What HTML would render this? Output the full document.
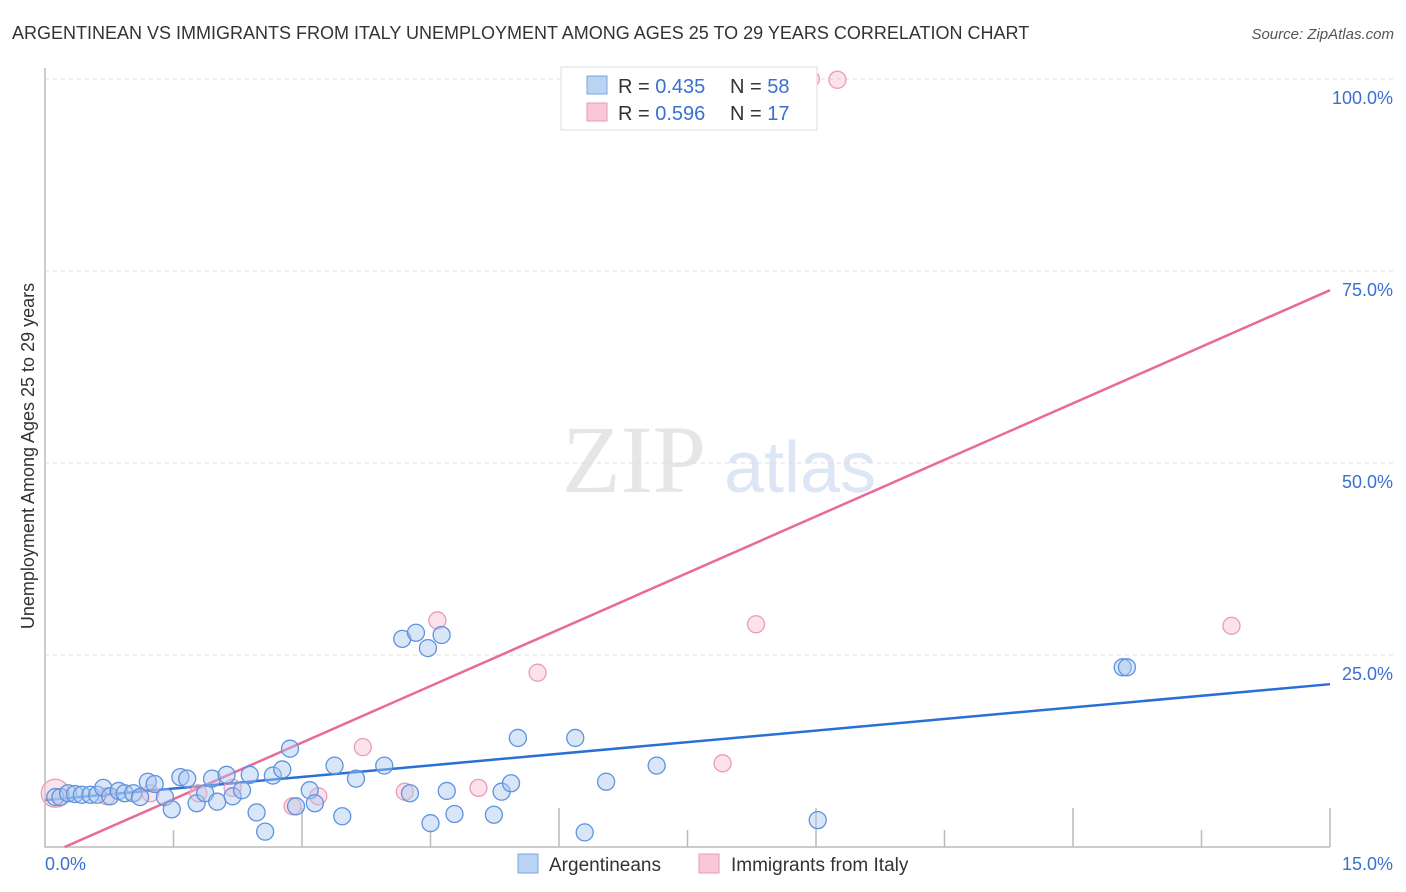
<!DOCTYPE html>
<html><head><meta charset="utf-8"><style>
body{margin:0;background:#fff;font-family:"Liberation Sans",sans-serif;}
#wrap{position:relative;width:1406px;height:892px;overflow:hidden}
</style></head><body>
<div id="wrap">
<svg id="svg" width="1406" height="892" xmlns="http://www.w3.org/2000/svg">
<text x="12" y="39" font-size="18" fill="#333">ARGENTINEAN VS IMMIGRANTS FROM ITALY UNEMPLOYMENT AMONG AGES 25 TO 29 YEARS CORRELATION CHART</text>
<text x="1394" y="39" font-size="15" fill="#555" text-anchor="end" font-style="italic">Source: ZipAtlas.com</text>
<text x="634" y="492" font-size="96" fill="#e6e6e6" font-family="Liberation Serif,serif" text-anchor="middle">ZIP</text>
<text x="800" y="492" font-size="72" fill="#dde6f4" text-anchor="middle">atlas</text>
<text transform="translate(34,456) rotate(-90)" font-size="18" fill="#333" text-anchor="middle">Unemployment Among Ages 25 to 29 years</text>
<g id="grid"></g><g id="ticks"></g><g id="lines"></g><g id="pts"></g>
<g>
<rect x="561" y="67" width="256" height="63" fill="#fff" stroke="#ddd"/>
<rect x="587" y="76" width="20" height="18" fill="#b9d3f5" stroke="#7aa6e0"/>
<rect x="587" y="103" width="20" height="18" fill="#f9c7d6" stroke="#e99ab3"/>
<text x="618" y="93" font-size="20" fill="#333">R = <tspan fill="#3b6fd0">0.435</tspan></text>
<text x="730" y="93" font-size="20" fill="#333">N = <tspan fill="#3b6fd0">58</tspan></text>
<text x="618" y="120" font-size="20" fill="#333">R = <tspan fill="#3b6fd0">0.596</tspan></text>
<text x="730" y="120" font-size="20" fill="#333">N = <tspan fill="#3b6fd0"> 17</tspan></text>
</g>
<g>
<rect x="518" y="854" width="20" height="19" fill="#b9d3f5" stroke="#7aa6e0"/>
<text x="549" y="871" font-size="19" fill="#333">Argentineans</text>
<rect x="699" y="854" width="20" height="19" fill="#f9c7d6" stroke="#e99ab3"/>
<text x="731" y="871" font-size="19" fill="#333">Immigrants from Italy</text>
</g>
<text x="45" y="870" font-size="18" fill="#3b6fd0">0.0%</text>
<text x="1393" y="870" font-size="18" fill="#3b6fd0" text-anchor="end">15.0%</text>
</svg></div>
<script>
const yTicks=[25,50,75,100];
const yTickLabels=["25.0%","50.0%","75.0%","100.0%"];
const xTicks=[1.5,3,4.5,6,7.5,9,10.5,12,13.5,15];
const blueX=[0.12,0.18,0.27,0.35,0.43,0.53,0.61,0.68,0.76,0.86,0.93,1.03,1.11,1.2,1.28,1.4,1.48,1.58,1.66,1.77,1.87,1.95,2.01,2.12,2.19,2.3,2.39,2.47,2.57,2.66,2.77,2.86,2.93,3.09,3.15,3.38,3.47,3.63,3.96,4.17,4.26,4.33,4.47,4.5,4.63,4.69,4.78,5.24,5.33,5.44,5.52,6.19,6.3,6.55,7.14,9.02,12.58,12.63];
const blueY=[6.5,6.5,7.0,6.9,6.8,6.8,6.8,7.7,6.6,7.3,7.0,7.0,6.5,8.5,8.2,6.5,4.9,9.1,8.9,5.7,7.0,8.9,5.9,9.4,6.6,7.4,9.4,4.5,2.0,9.3,10.1,12.8,5.3,7.4,5.7,10.6,4.0,8.9,10.6,27.1,7.0,27.9,25.9,3.1,27.6,7.3,4.3,4.2,7.2,8.3,14.2,14.2,1.9,8.5,10.6,3.5,23.4,23.4];
const pinkX=[0.12,1.23,1.79,2.19,2.89,3.19,3.71,4.2,4.58,5.06,5.75,7.91,8.3,8.94,9.25,13.85,0.72];
const pinkY=[7.0,7.0,7.0,7.7,5.3,6.6,13.0,7.2,29.5,7.7,22.7,10.9,29.0,100,99.9,28.8,6.6];
const blueLine=[[0,6.1],[15,21.2]];
const pinkLine=[[0.23,0],[15,72.5]];
const X=v=>45+v/15*1285, Y=v=>847-v/100*768;
const NS="http://www.w3.org/2000/svg";
function mk(t,a,p){const e=document.createElementNS(NS,t);for(const k in a)e.setAttribute(k,a[k]);p.appendChild(e);return e;}
const grid=document.getElementById('grid'),ticks=document.getElementById('ticks'),lines=document.getElementById('lines'),pts=document.getElementById('pts');
yTicks.forEach((t,i)=>{
 const l=mk('line',{x1:45,x2:1394,y1:Y(t),y2:Y(t),stroke:'#ddd','stroke-dasharray':'4,4'},grid);
 
 
 const tx=mk('text',{x:1393,y:Y(t)+25,'font-size':18,fill:'#3b6fd0','text-anchor':'end'},grid);
 tx.textContent=yTickLabels[i];
 
 
});
const ax=mk('path',{d:'M45,68V847H1330',fill:'none',stroke:'#bbb','stroke-width':1.5},ticks);


xTicks.forEach((t,i)=>{
 const tk=mk('line',{x1:X(t),x2:X(t),y1:847,y2:(i%2?808:830),stroke:'#bbb','stroke-width':1.5},ticks);
 
 
});
function trend(d,c,n){const l=mk('line',{x1:X(d[0][0]),y1:Y(d[0][1]),x2:X(d[1][0]),y2:Y(d[1][1]),stroke:c,'stroke-width':2.5},lines);
 
 }
trend(pinkLine,'#e8699a','italy-trend-line');
trend(blueLine,'#2a6fd6','argentinean-trend-line');
pinkX.forEach((x,i)=>{
 const c=mk('circle',{cx:X(x),cy:Y(pinkY[i]),r:i==0?14:8.5,fill:'rgba(249,190,208,0.45)',stroke:'#ec9bb5','stroke-width':1.3},pts);
 
 
});
blueX.forEach((x,i)=>{
 const c=mk('circle',{cx:X(x),cy:Y(blueY[i]),r:8.5,fill:'rgba(170,200,240,0.45)',stroke:'#5e93de','stroke-width':1.3},pts);
 
 
});
</script>
</body></html>
